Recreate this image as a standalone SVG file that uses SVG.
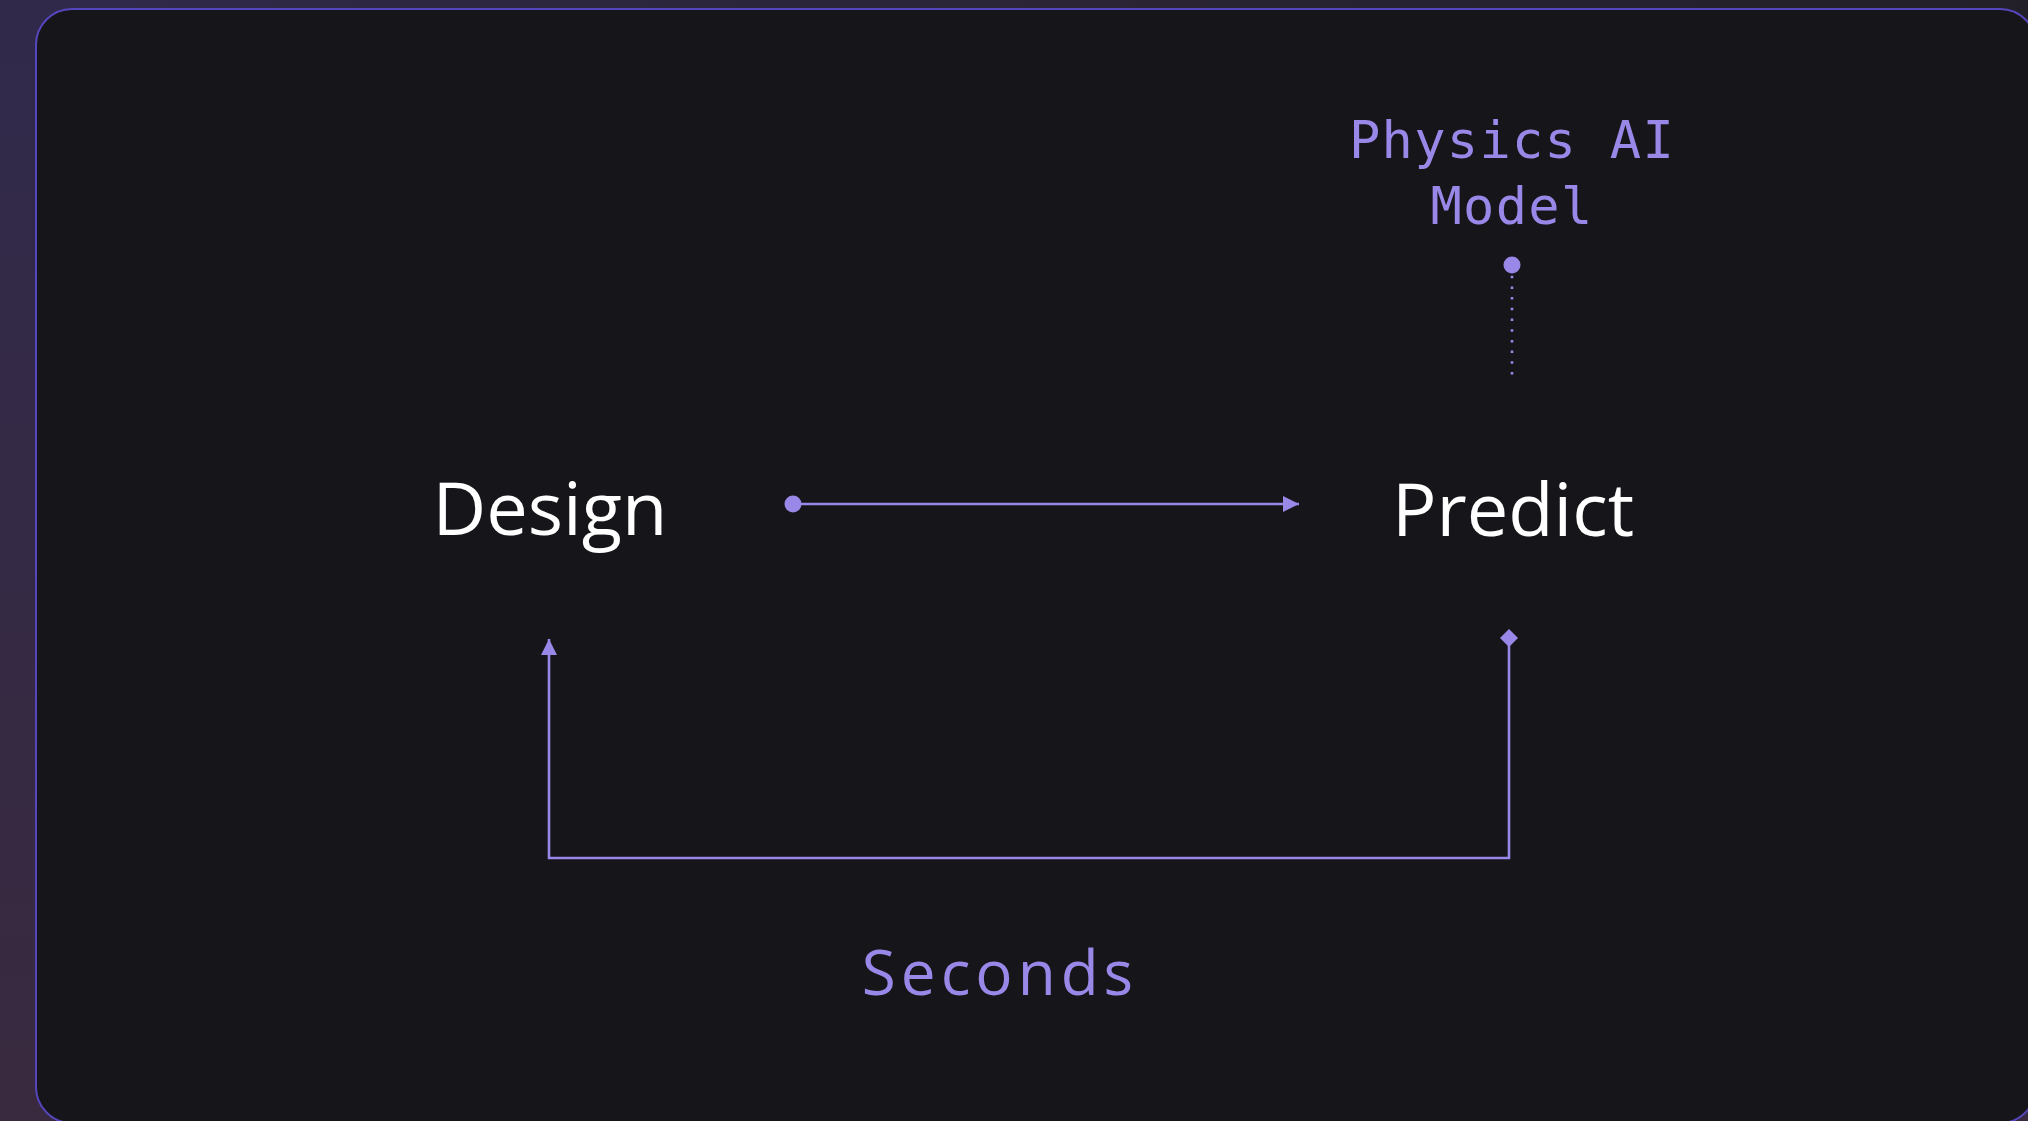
<svg xmlns="http://www.w3.org/2000/svg" width="2028" height="1121" viewBox="0 0 2028 1121">
<defs>
<linearGradient id="bg" x1="0" y1="0" x2="1" y2="0">
<stop offset="0" stop-color="#30294a"/>
<stop offset="0.5" stop-color="#2a2436"/>
<stop offset="1" stop-color="#221f29"/>
</linearGradient>
<linearGradient id="bgl" x1="0" y1="0" x2="0" y2="1">
<stop offset="0" stop-color="#30294a"/>
<stop offset="1" stop-color="#392a3f"/>
</linearGradient>
<marker id="arrow" viewBox="0 0 16 16" refX="16" refY="8" markerWidth="16" markerHeight="16" markerUnits="userSpaceOnUse" orient="auto">
<path d="M0,0 L16,8 L0,16 Z" fill="#9a88e8"/>
</marker>
<marker id="dot" viewBox="0 0 18 18" refX="9" refY="9" markerWidth="18" markerHeight="18" markerUnits="userSpaceOnUse" orient="auto">
<circle cx="9" cy="9" r="8.5" fill="#9a88e8"/>
</marker>
<marker id="diamond" viewBox="0 0 18 18" refX="9" refY="9" markerWidth="18" markerHeight="18" markerUnits="userSpaceOnUse" orient="auto">
<path d="M0,9 L9,0 L18,9 L9,18 Z" fill="#9a88e8"/>
</marker>
<style>
.node{font-family:"Open Sans","Noto Sans",sans-serif;font-size:74px;fill:#ffffff;text-anchor:middle}
.mono{font-family:"DejaVu Sans Mono","Liberation Mono",monospace;font-size:52px;fill:#9a88e8;text-anchor:middle;letter-spacing:1.3px}
.lbl{font-family:"Open Sans","Noto Sans",sans-serif;font-size:62px;fill:#9a88e8;text-anchor:middle;letter-spacing:5px}
.conn{stroke:#9a88e8;stroke-width:2.6;fill:none}
</style>
</defs>
<rect x="0" y="0" width="2028" height="1121" fill="url(#bgl)"/>
<rect x="36" y="0" width="1992" height="20" fill="url(#bg)"/>
<rect x="36" y="9" width="2000" height="1114" rx="36" ry="36" fill="#16151a" stroke="#5546bd" stroke-width="2"/>

<g id="design">
<text class="node" x="550" y="535">Design</text>
</g>
<g id="predict">
<text class="node" x="1513" y="536">Predict</text>
</g>
<g id="physics-ai-model">
<text class="mono" x="1512" y="158">Physics AI</text>
<text class="mono" x="1512" y="224">Model</text>
</g>
<g id="seconds-label">
<text class="lbl" x="1000" y="995">Seconds</text>
</g>

<g id="connectors">
<line class="conn" x1="793" y1="504" x2="1299" y2="504" marker-start="url(#dot)" marker-end="url(#arrow)"/>
<path class="conn" d="M1509,638 L1509,858 L549,858 L549,639" marker-start="url(#diamond)" marker-end="url(#arrow)"/>
<line class="conn" x1="1512" y1="265" x2="1512" y2="375" stroke-dasharray="2.5 8.2" marker-start="url(#dot)"/>
</g>
</svg>
